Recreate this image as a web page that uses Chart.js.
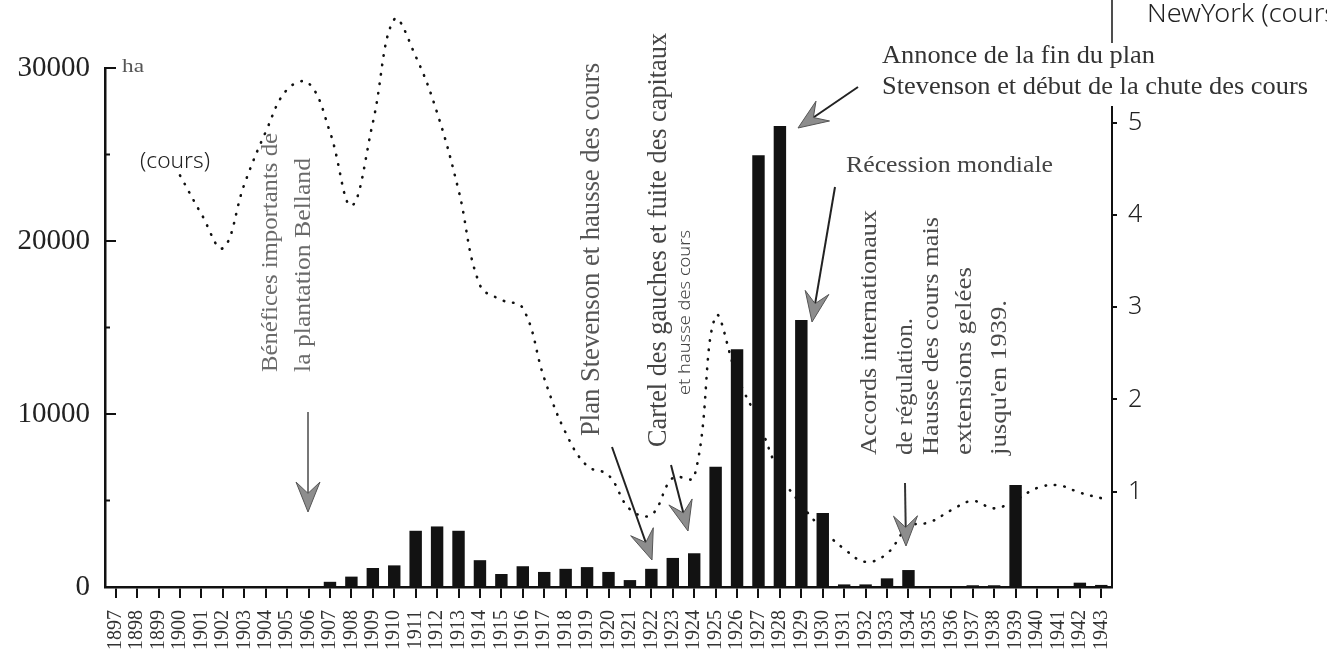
<!DOCTYPE html>
<html><head><meta charset="utf-8">
<script src="https://cdn.jsdelivr.net/npm/chart.js@4/dist/chart.umd.min.js"></script>
<style>html,body{margin:0;padding:0;background:#fff;}#wrap{position:relative;width:1327px;height:655px;}</style>
</head><body><div id="wrap"><canvas id="c" width="1327" height="655"></canvas></div>
<script>
// ---- data ----
const years = ['1897','1898','1899','1900','1901','1902','1903','1904','1905','1906','1907','1908','1909','1910','1911','1912','1913','1914','1915','1916','1917','1918','1919','1920','1921','1922','1923','1924','1925','1926','1927','1928','1929','1930','1931','1932','1933','1934','1935','1936','1937','1938','1939','1940','1941','1942','1943'];
const hectares = [0,0,0,0,0,0,0,0,0,0,300,600,1100,1250,3250,3500,3250,1550,750,1200,870,1050,1150,870,400,1050,1680,1950,6950,13750,24950,26650,15430,4280,150,150,500,980,0,0,100,100,5900,0,0,250,120];
const cours = [null,null,null,4.43,4.01,3.64,4.33,4.90,5.36,5.43,4.90,4.10,5.00,6.12,5.72,5.11,4.27,3.24,3.08,2.99,2.23,1.64,1.28,1.18,0.81,0.75,1.15,1.16,2.90,2.25,1.76,1.19,0.86,0.59,0.38,0.24,0.33,0.62,0.67,0.80,0.90,0.82,0.91,1.04,1.07,0.99,0.93];
const leftTickLabels = ['0','10000','20000','30000'];
const rightTickValues = [1,2,3,4,5];

// ---- annotations (layout) ----
const notes = [
 {text:'Bénéfices importants de', x:277, y:372, rot:true, size:24, len:239, color:'#6a6a6a'},
 {text:'la plantation Belland', x:310, y:372, rot:true, size:24, len:214, color:'#6a6a6a'},
 {text:'Plan Stevenson et hausse des cours', x:599, y:436, rot:true, size:28, len:373, color:'#555'},
 {text:'Cartel des gauches et fuite des capitaux', x:666, y:447, rot:true, size:28, len:414, color:'#444'},
 {text:'et hausse des cours', x:690, y:395, rot:true, size:16, len:165, color:'#444', hand:true},
 {text:'Annonce de la fin du plan', x:882, y:63, rot:false, size:25, len:273, color:'#333'},
 {text:'Stevenson et début de la chute des cours', x:882, y:94, rot:false, size:25, len:426, color:'#333'},
 {text:'Récession mondiale', x:846, y:172, rot:false, size:24, len:207, color:'#444'},
 {text:'Accords internationaux', x:876, y:455, rot:true, size:24, len:245, color:'#4a4a4a'},
 {text:'de régulation.', x:912, y:455, rot:true, size:24, len:137, color:'#4a4a4a'},
 {text:'Hausse des cours mais', x:938, y:455, rot:true, size:24, len:238, color:'#4a4a4a'},
 {text:'extensions gelées', x:971, y:455, rot:true, size:24, len:188, color:'#4a4a4a'},
 {text:"jusqu'en 1939.", x:1006, y:455, rot:true, size:24, len:155, color:'#4a4a4a'},
 {text:'(cours)', x:140, y:168, rot:false, size:22, len:70, color:'#222', hand:true},
 {text:'NewYork (cours', x:1147, y:22, rot:false, size:25, len:190, color:'#222', hand:true},
 {text:'ha', x:122, y:72, rot:false, size:19, len:22, color:'#555'}
];
const arrows = [
 {from:[308,412], to:[308,512], color:'#777'},
 {from:[612,447], to:[652,560], color:'#222'},
 {from:[671,465], to:[688,531], color:'#222'},
 {from:[858,87], to:[798,128], color:'#222'},
 {from:[835,187], to:[812,322], color:'#222'},
 {from:[905,483], to:[906,546], color:'#333'}
];

function fontOf(n){ return n.hand ? `300 ${n.size}px "Noto Sans", sans-serif` : `${n.size}px "Liberation Serif", serif`; }

const annotPlugin = {
  id:'annot',
  afterDraw(chart){
    const ctx = chart.ctx, ca = chart.chartArea, y = chart.scales.y;
    ctx.save();
    // inward ticks on left axis
    ctx.strokeStyle = '#111'; ctx.lineWidth = 2;
    y.ticks.forEach(t => {
      if (t.value <= 0) return;
      const py = y.getPixelForValue(t.value);
      const len = (t.value % 10000 === 0) ? 11 : 5;
      ctx.beginPath(); ctx.moveTo(ca.left, py); ctx.lineTo(ca.left + len, py); ctx.stroke();
    });
    // right axis extension above chart area, with a gap behind the top annotation
    ctx.strokeStyle = '#222'; ctx.lineWidth = 1.6;
    ctx.beginPath(); ctx.moveTo(ca.right, 0); ctx.lineTo(ca.right, 43); ctx.stroke();
    ctx.fillStyle = '#fff';
    ctx.fillRect(ca.right - 3, 44, 6, 62);
    // texts
    notes.forEach(n => {
      ctx.save();
      ctx.font = fontOf(n);
      ctx.fillStyle = n.color;
      ctx.textBaseline = 'alphabetic'; ctx.textAlign = 'left';
      const w = ctx.measureText(n.text).width;
      const sx = n.len / w;
      ctx.translate(n.x, n.y);
      if (n.rot) ctx.rotate(-Math.PI/2);
      ctx.scale(sx, 1);
      ctx.fillText(n.text, 0, 0);
      ctx.restore();
    });
    // arrows
    arrows.forEach(a => {
      const [x0,y0] = a.from, [x1,y1] = a.to;
      const dx = x1-x0, dy = y1-y0, L = Math.hypot(dx,dy);
      const ux = dx/L, uy = dy/L, nx = -uy, ny = ux;
      const hl = 30, hw = 12;
      const bx = x1 - ux*hl, by = y1 - uy*hl;
      const mx = x1 - ux*hl*0.62, my = y1 - uy*hl*0.62;
      ctx.strokeStyle = a.color; ctx.lineWidth = 2;
      ctx.beginPath(); ctx.moveTo(x0,y0); ctx.lineTo(mx,my); ctx.stroke();
      ctx.beginPath();
      ctx.moveTo(x1,y1);
      ctx.lineTo(bx + nx*hw, by + ny*hw);
      ctx.lineTo(mx, my);
      ctx.lineTo(bx - nx*hw, by - ny*hw);
      ctx.closePath();
      ctx.fillStyle = '#8d8d8d'; ctx.fill();
      ctx.strokeStyle = '#555'; ctx.lineWidth = 1; ctx.stroke();
    });
    ctx.restore();
  }
};

new Chart(document.getElementById('c').getContext('2d'), {
  type:'bar',
  data:{
    labels: years,
    datasets:[
      {type:'bar', label:'Extensions (ha)', data:hectares, yAxisID:'y', backgroundColor:'#121212', barPercentage:0.58, categoryPercentage:1, order:0},
      {type:'line', label:'Cours New York', data:cours, yAxisID:'y2', borderColor:'#111', borderWidth:2.6, borderDash:[0.5,9], borderCapStyle:'round', pointRadius:0, tension:0.4, fill:false, clip:false, spanGaps:false, order:1}
    ]
  },
  options:{
    responsive:false, animation:false, devicePixelRatio:1,
    layout:{padding:{top:68,left:0,right:0,bottom:0}},
    plugins:{legend:{display:false}, tooltip:{enabled:false}, title:{display:false}},
    scales:{
      x:{
        offset:true,
        grid:{offset:false, drawOnChartArea:false, drawTicks:true, tickLength:11, color:'#111', lineWidth:2},
        border:{display:true, color:'#111', width:2.5},
        ticks:{autoSkip:false, minRotation:90, maxRotation:90, padding:12, font:{family:'Liberation Serif', size:20}, color:'#333'},
        afterFit:s=>{ s.height = 68; }
      },
      y:{
        position:'left', min:0, max:30000,
        ticks:{stepSize:5000, padding:15, font:{family:'Liberation Serif', size:29}, color:'#222',
          callback:(v)=> leftTickLabels.includes(String(v)) ? String(v) : ''},
        grid:{display:true, drawOnChartArea:false, drawTicks:false},
        border:{display:true, color:'#111', width:2.5},
        afterFit:s=>{ s.width = 105; }
      },
      y2:{
        position:'right', min:-0.0325, max:5.593,
        afterBuildTicks:s=>{ s.ticks = rightTickValues.map(v=>({value:v})); },
        ticks:{padding:11, font:{family:'Noto Sans', size:25, weight:'300'}, color:'#222', callback:v=>String(v)},
        grid:{drawOnChartArea:false, drawTicks:true, tickLength:5, color:'#111', lineWidth:2},
        border:{display:true, color:'#111', width:2},
        afterFit:s=>{ s.width = 215; }
      }
    }
  },
  plugins:[annotPlugin]
});
</script>
</body></html>
